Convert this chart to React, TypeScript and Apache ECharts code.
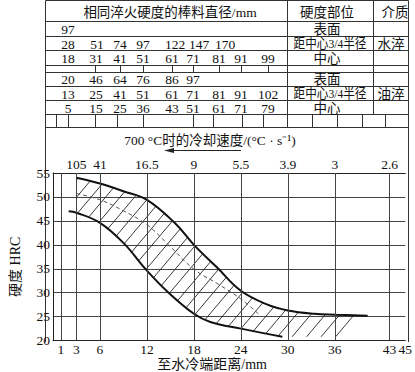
import React, { useEffect, useRef } from 'react';
import * as echarts from 'echarts';

// ---------- data ----------
const distanceTicks = [1, 3, 6, 12, 18, 24, 30, 36, 43, 45];
const rateDistances = [3, 6, 12, 18, 24, 30, 36, 43];
const coolingRates = ['105', '41', '16.5', '9', '5.5', '3.9', '3', '2.6'];

const upperCurve = [[3, 54], [6, 52.8], [9, 51.2], [12, 49.4], [15.6, 44.5], [18, 40], [21, 35.2], [24, 30.4], [27.4, 27.5], [30, 26.3], [33.4, 25.6], [36, 25.4], [40.2, 25.2]];
const lowerCurve = [[2, 47], [3, 46.7], [6, 44.6], [9, 40.4], [12, 34.6], [14.7, 30.1], [18, 25.6], [20.1, 23.9], [24, 22.5], [29.3, 20.8]];
const middleCurve = [[3, 50.7], [6, 49.4], [9, 47.1], [12, 44.2], [15, 39.6], [18, 34.9], [21, 31.9], [24, 28.7], [26.3, 25.5]];
const hatchCorner = [36.1, 20.8];

const headerTexts = ['相同淬火硬度的棒料直径/mm', '硬度部位', '介质'];
const waterSurface = [97];
const waterThreeQuarter = [28, 51, 74, 97, 122, 147, 170];
const waterCenter = [18, 31, 41, 51, 61, 71, 81, 91, 99];
const oilSurface = [20, 46, 64, 76, 86, 97];
const oilThreeQuarter = [13, 25, 41, 51, 61, 71, 81, 91, 102];
const oilCenter = [5, 15, 25, 36, 43, 51, 61, 71, 79];
const positionLabels = ['表面', '距中心3/4半径', '中心'];
const mediaLabels = ['水淬', '油淬'];
const rateTitle = '700 °C时的冷却速度/(°C · s⁻¹)';

// ---------- layout ----------
const FONT = '"Liberation Serif", "Noto Sans CJK SC", serif';
const L = 45.5, R = 408.5;
const hLines = [21.5, 36.5, 50.5, 65.5, 72.5, 86.5, 100.5, 114.5, 127.5];
const sep1 = 287.5, sep2 = 373.5;
const thinTicks = [95, 120, 143, 172, 193, 219, 241, 268];
const bottomTicks = [56, 68, 95, 117, 143, 193, 213, 242, 263, 312, 337, 362, 385];
const colX = [68, 96, 120, 143, 172, 193, 219, 241, 268];
const colXWide = [68, 97, 120, 143, 175, 199, 225];
const rowY = [29.5, 44, 58.3, 79.3, 94, 108.5];

export default function App() {
  const ref = useRef<HTMLDivElement>(null);
  useEffect(() => {
    if (!ref.current) return;
    const chart = echarts.init(ref.current, undefined, { renderer: 'svg' });
    const stroke = '#333';
    const g: any[] = [];
    const ln = (x1: number, y1: number, x2: number, y2: number, w = 1, c = stroke) =>
      g.push({ type: 'line', silent: true, shape: { x1, y1, x2, y2 }, style: { stroke: c, lineWidth: w } });
    const tx = (text: string, x: number, y: number, size = 13.5, sx = 1) =>
      g.push({ type: 'text', silent: true, x, y, scaleX: sx, style: { text, fill: '#111', fontSize: size, fontFamily: FONT, align: 'center', verticalAlign: 'middle' } });

    // frame
    ln(L, 0.5, R, 0.5);
    ln(L, 0.5, L, 342);
    ln(R, 0.5, R, 342);
    hLines.forEach((y) => ln(L, y, R, y));
    ln(sep1, 0.5, sep1, 127.5);
    ln(sep2, 0.5, sep2, 114.5);
    thinTicks.forEach((x) => ln(x + 0.5, 65.5, x + 0.5, 72.5));
    bottomTicks.forEach((x) => ln(x + 0.5, 114.5, x + 0.5, 127.5));

    // table texts
    tx(headerTexts[0], 170, 12);
    tx(headerTexts[1], 327, 12);
    tx(headerTexts[2], 395, 12);
    const rows = [waterSurface, waterThreeQuarter, waterCenter, oilSurface, oilThreeQuarter, oilCenter];
    rows.forEach((row, r) => {
      const xs = r === 1 ? colXWide : colX;
      row.forEach((v, j) => tx(String(v), xs[j], rowY[r]));
      const lab = positionLabels[r % 3];
      if (lab.length > 3) tx(lab, 330, rowY[r], 13.5, 0.86);
      else tx(lab, 327, rowY[r]);
    });
    tx(mediaLabels[0], 391, rowY[1]);
    tx(mediaLabels[1], 391, rowY[4]);

    // title + arrow
    tx(rateTitle, 210, 140);
    ln(241, 150.5, 172, 150.5, 1, '#222');
    g.push({ type: 'polygon', silent: true, shape: { points: [[164, 150.5], [174, 148], [174, 153]] }, style: { fill: '#222' } });

    const C = 0.845;
    const STEP = 14.5;

    chart.setOption({
      animation: false,
      textStyle: { fontFamily: FONT },
      grid: { left: 45, top: 173, width: 364, height: 169 },
      xAxis: [
        {
          type: 'value', min: 0, max: 45, position: 'bottom',
          axisLine: { show: true, onZero: false, lineStyle: { color: '#222' } },
          axisTick: { show: false, customValues: distanceTicks },
          axisLabel: { customValues: distanceTicks, margin: 2, color: '#111', fontSize: 13.5, fontFamily: FONT },
          splitLine: { show: false },
          name: '至水冷端距离/mm', nameLocation: 'middle', nameGap: 13,
          nameTextStyle: { color: '#111', fontSize: 14, fontFamily: FONT, padding: [0, 34, 0, 0] },
        },
        {
          type: 'value', min: 0, max: 45, position: 'top',
          axisLine: { show: true, onZero: false, lineStyle: { color: '#222' } },
          axisTick: { show: false, customValues: rateDistances },
          axisLabel: {
            customValues: rateDistances, margin: 2, color: '#111', fontSize: 13.5, fontFamily: FONT,
            formatter: (v: number) => coolingRates[rateDistances.indexOf(v)] ?? '',
          },
          splitLine: { show: false },
        },
      ],
      yAxis: {
        type: 'value', min: 20, max: 55, interval: 5,
        axisLine: { show: true, lineStyle: { color: '#222' } },
        axisTick: { show: false },
        axisLabel: { color: '#111', fontSize: 13.5, fontFamily: FONT, margin: 3 },
        splitLine: { lineStyle: { color: '#444', width: 1 } },
        name: '硬度 HRC', nameLocation: 'middle', nameGap: 31, nameRotate: 90,
        nameTextStyle: { color: '#111', fontSize: 14, fontFamily: FONT, padding: [0, 20, 0, 0] },
      },
      graphic: { elements: g },
      series: [
        {
          type: 'line', xAxisIndex: 0, z: 0, silent: true,
          data: [[1, 20]], symbol: 'none', lineStyle: { opacity: 0 },
          markLine: {
            silent: true, symbol: ['none', 'none'], label: { show: false },
            lineStyle: { color: '#444', width: 1, type: 'solid' },
            emphasis: { disabled: true },
            data: distanceTicks.filter((d) => d > 0 && d < 45).map((d) => ({ xAxis: d })),
          },
        },
        {
          type: 'custom', xAxisIndex: 0, z: 1, silent: true,
          data: [[20, 30]],
          renderItem: (_p: any, api: any) => {
            const lowerPart = lowerCurve.filter((p) => p[0] >= 3).slice().reverse();
            const last = upperCurve[upperCurve.length - 1];
            const polyData = [...upperCurve, [last[0], hatchCorner[1]], ...lowerPart];
            const poly = polyData.map((p) => api.coord(p));
            const corner = api.coord(hatchCorner);
            const uMax = corner[0] + C * corner[1];
            let uMin = Infinity;
            poly.forEach((p: number[]) => { uMin = Math.min(uMin, p[0] + C * p[1]); });
            const children: any[] = [];
            for (let u = uMax; u > uMin; u -= STEP) {
              const pts: number[][] = [];
              for (let i = 0; i < poly.length; i++) {
                const p1 = poly[i];
                const p2 = poly[(i + 1) % poly.length];
                const f1 = p1[0] + C * p1[1] - u;
                const f2 = p2[0] + C * p2[1] - u;
                if ((f1 < 0) !== (f2 < 0)) {
                  const t = f1 / (f1 - f2);
                  pts.push([p1[0] + t * (p2[0] - p1[0]), p1[1] + t * (p2[1] - p1[1])]);
                }
              }
              pts.sort((a, b) => a[1] - b[1]);
              for (let k = 0; k + 1 < pts.length; k += 2) {
                children.push({
                  type: 'line',
                  shape: { x1: pts[k][0], y1: pts[k][1], x2: pts[k + 1][0], y2: pts[k + 1][1] },
                  style: { stroke: '#222', lineWidth: 0.9 },
                });
              }
            }
            return { type: 'group', children };
          },
        },
        {
          type: 'line', xAxisIndex: 0, z: 3, data: upperCurve, smooth: 0.4, symbol: 'none',
          lineStyle: { color: '#111', width: 2 },
        },
        {
          type: 'line', xAxisIndex: 0, z: 3, data: lowerCurve, smooth: 0.4, symbol: 'none',
          lineStyle: { color: '#111', width: 2 },
        },
        {
          type: 'line', xAxisIndex: 0, z: 2, data: middleCurve, smooth: 0.4, symbol: 'none',
          lineStyle: { color: '#555', width: 1, type: [4, 3] },
        },
      ],
    });
    return () => chart.dispose();
  }, []);
  return (
    <div
      ref={ref}
      style={{ position: 'absolute', left: 0, top: 0, width: 415, height: 372, background: '#fff' }}
    />
  );
}
